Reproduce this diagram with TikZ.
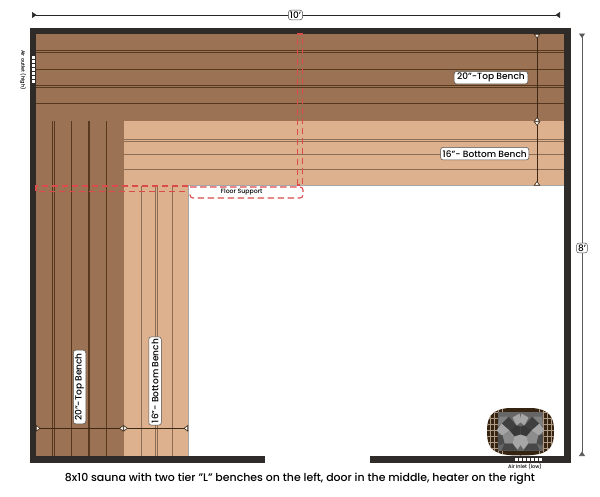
\documentclass[tikz,border=0pt]{standalone}
\usepackage{fontspec}
\setmainfont{Poppins Medium}
\usetikzlibrary{arrows.meta}
\definecolor{wallc}{HTML}{2E2B29}
\definecolor{topc}{HTML}{9B7253}
\definecolor{topl}{HTML}{57391F}
\definecolor{botc}{HTML}{DDB18D}
\definecolor{botl}{HTML}{8B6D55}
\definecolor{supc}{HTML}{DC4A4A}
\tikzset{
  dimlabel/.style={draw=black!70,fill=white,rounded corners=2.5pt,inner sep=1.5pt,font=\fontsize{9}{11}\selectfont,line width=.5pt},
  benchlabel/.style={dimlabel,minimum height=12.5pt,inner xsep=2pt,inner ysep=1pt},
  dimline/.style={draw=black!85,line width=.6pt,{Triangle[reversed,length=4.5pt,width=6pt]}-{Triangle[reversed,length=4.5pt,width=6pt]}},
  benchdim/.style={draw=topl!70!black,line width=.6pt,{Triangle[reversed,open,fill=white,length=4.5pt,width=6.5pt]}-{Triangle[reversed,open,fill=white,length=4.5pt,width=6.5pt]}},
  support/.style={draw=supc,line width=1.1pt,dash pattern=on 6.5pt off 3.5pt},
  topboard/.style={draw=topl,line width=1pt},
  topthin/.style={draw=topl,line width=.6pt},
  botboard/.style={draw=botl,line width=1pt},
  botthin/.style={draw=botl,line width=.6pt},
  ventbar/.style={fill=white,draw=none},
  rockgrid/.style={draw=brown!45!gray!80!white,line width=.45pt},
}
\begin{document}
\begin{tikzpicture}[x=1pt,y=-1pt]
\useasboundingbox (0,0) rectangle (600,496);
% benches
\fill[botc] (123.5,121) rectangle (564,185.5);
\fill[botc] (123.5,185.5) rectangle (188,456);
\draw[black!35,line width=.6pt] (188,456) -- (188,185.5) -- (564,185.5);
\fill[topc] (36,34) rectangle (564,121);
\fill[topc] (36,121) rectangle (123.5,456);
\foreach \y in {50.3,52.3,85.7,87.3} \draw[topthin] (36,\y) -- (564,\y);
\foreach \y in {69,103.7} \draw[topboard] (36,\y) -- (564,\y);
\foreach \x in {52.3,54.3,88,89.5} \draw[topthin] (\x,121) -- (\x,456);
\foreach \x in {71,106} \draw[topboard] (\x,121) -- (\x,456);
\foreach \y in {139.5,141.7} \draw[botthin] (123.5,\y) -- (564,\y);
\foreach \y in {154.7,169.3} \draw[botboard] (123.5,\y) -- (564,\y);
\foreach \x in {155.3,157.3} \draw[botthin] (\x,185.5) -- (\x,456);
\foreach \x in {141.7,172.3} \draw[botboard] (\x,185.5) -- (\x,456);
% walls
\fill[wallc] (29.5,27.5) rectangle (571,34);
\fill[wallc] (29.5,27.5) rectangle (36,462.5);
\fill[wallc] (564,27.5) rectangle (571,462.5);
\fill[wallc] (29.5,456) rectangle (265,462.5);
\fill[wallc] (370,456) rectangle (571,462.5);
% floor support
\draw[support] (297.3,185) -- (297.3,34) -- (302.7,34) -- (302.7,185) -- cycle;
\draw[support] (188,186) -- (36,186) -- (36,191.5) -- (188,191.5);
\draw[support,rounded corners=3pt] (190,187) -- (303,187) -- (303,198) -- (190,198) -- (190,192);
\node[font=\fontsize{6.2}{7}\selectfont,inner sep=0pt] (floorlab) at (241.7,192) {Floor Support};
% overall dimensions
\coordinate (widthl) at (32,15);
\coordinate (widthr) at (560,15);
\coordinate (depthu) at (582,33.5);
\coordinate (depthd) at (582,456);
\draw[dimline] (widthl) -- (widthr);
\draw[dimline,draw=black!65] (depthu) -- (depthd);
\node[dimlabel] (tenft) at (295.5,15) {10'};
\node[dimlabel] (eightft) at (582,248) {8'};
% bench dimensions
\coordinate (rtop) at (537,34);
\coordinate (rmid) at (537,121.5);
\coordinate (rbot) at (537,185.5);
\coordinate (btop) at (36,428.3);
\coordinate (bmid) at (123.5,428.3);
\coordinate (bbot) at (188,428.3);
\draw[benchdim] (rtop) -- (rmid);
\draw[benchdim] (rmid) -- (rbot);
\draw[benchdim] (btop) -- (bmid);
\draw[benchdim] (bmid) -- (bbot);
\node[benchlabel,inner xsep=3pt] (toph) at (491,77.7) {20''-Top Bench};
\node[benchlabel] (both) at (484.7,153.7) {16''- Bottom Bench};
\node[benchlabel,inner xsep=3pt,rotate=90] (topv) at (79.5,387) {20''-Top Bench};
\node[benchlabel,rotate=90] (botv) at (155,381) {16''- Bottom Bench};
% vents
\foreach \i in {0,...,6} \fill[ventbar] (31.5,{55.5+\i*4}) rectangle (35,{58.5+\i*4});
\foreach \i in {0,...,6} \fill[ventbar] ({515+\i*4},458) rectangle ({518+\i*4},461);
\node[font=\fontsize{5}{6}\selectfont,rotate=-90,inner sep=0pt] (outlet) at (23,70) {Air outlet (high)};
\node[font=\fontsize{5}{6}\selectfont,inner sep=0pt] (inlet) at (525,467) {Air Inlet (low)};
% heater
\begin{scope}
\clip (487,431.5) .. controls (487,412) and (495,407.5) .. (520.5,407.5) .. controls (546,407.5) and (554,412) .. (554,431.5) .. controls (554,451) and (546,455.5) .. (520.5,455.5) .. controls (495,455.5) and (487,451) .. (487,431.5) -- cycle;
\fill[black!72!brown] (487,407.5) rectangle (554,455.5);
\foreach \x in {490,494,498,502,539,543,547,551} \draw[rockgrid] (\x,407) -- (\x,456);
\foreach \y in {412,418,424,430,436,442,448} \draw[rockgrid] (487,\y) -- (554,\y);
\fill[black!60] (498,412) rectangle (543,451);
\foreach \sx in {1,-1} {
\begin{scope}[shift={(520.5,431.5)},xscale=\sx]
\fill[black!35] (1,-18) -- (8,-14) -- (4,-6) -- (-1,-10) -- cycle;
\fill[black!75] (4,-6) -- (12,-15) -- (19,-8) -- (11,-1) -- cycle;
\fill[black!50] (12,-15) -- (21,-15) -- (23,-5) -- (19,-8) -- cycle;
\fill[black!35] (11,-1) -- (19,-8) -- (24,-1) -- (18,4) -- cycle;
\fill[black!78] (0,-5) -- (4,-6) -- (11,-1) -- (6,5) -- (0,3) -- cycle;
\fill[black!45] (6,5) -- (11,-1) -- (18,4) -- (16,12) -- (8,12) -- cycle;
\fill[black!70] (16,12) -- (18,4) -- (23,3) -- (22,14) -- cycle;
\fill[black!35] (0,3) -- (6,5) -- (8,12) -- (3,18) -- (-1,12) -- cycle;
\fill[black!72] (8,12) -- (16,12) -- (19,19) -- (3,19) -- cycle;
\end{scope}
}
\end{scope}
% caption
\node[font=\fontsize{10.95}{12}\selectfont,inner sep=0pt] (caption) at (300,479) {8x10 sauna with two tier "L" benches on the left, door in the middle, heater on the right};
\end{tikzpicture}
\end{document}
